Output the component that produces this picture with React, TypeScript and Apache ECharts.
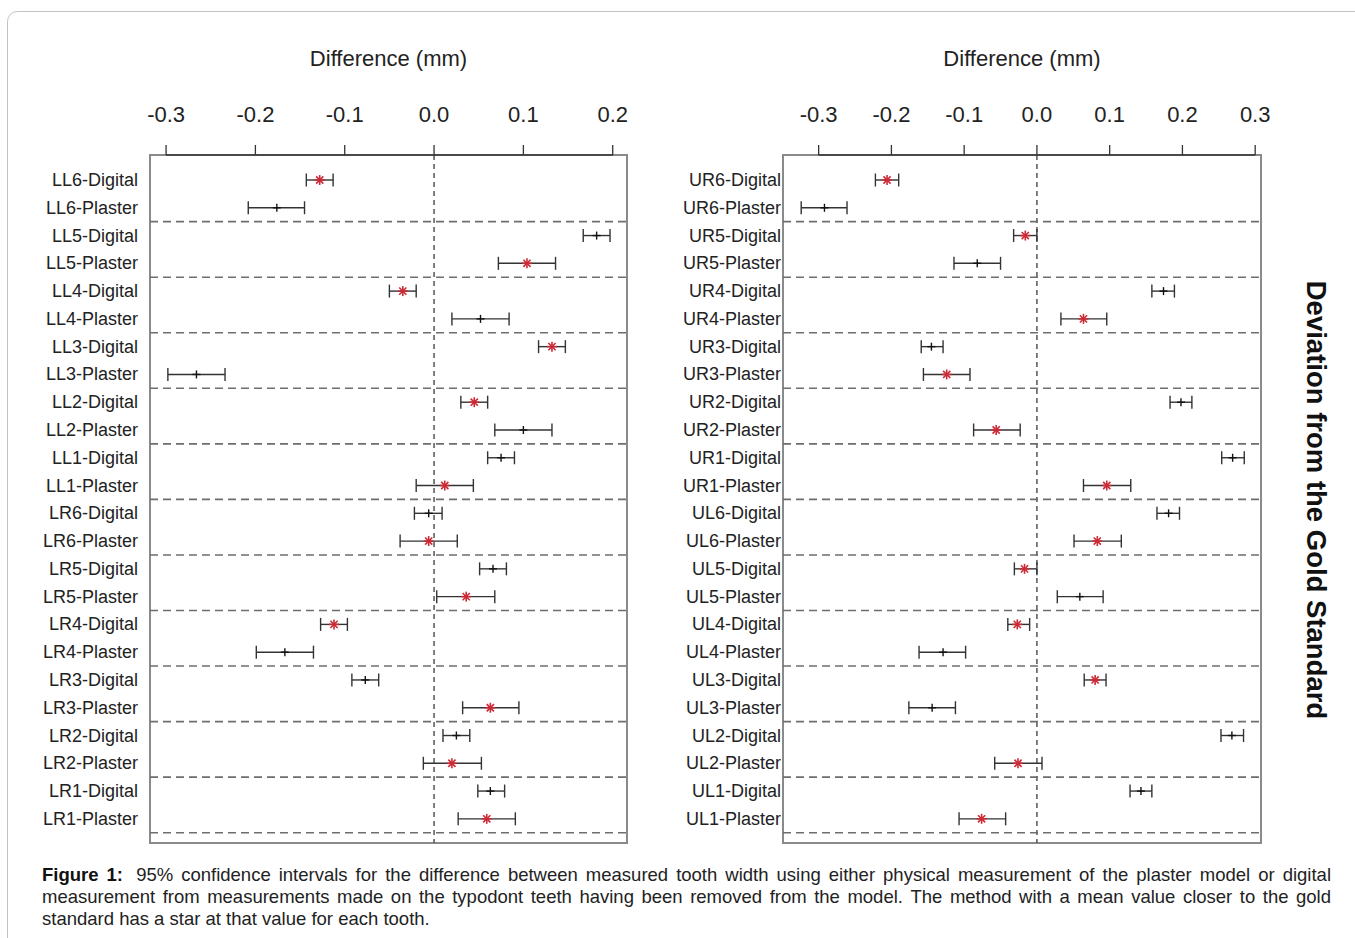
import React, { useEffect, useRef } from "react";
import * as echarts from "echarts";

// ---------- data ----------
const leftLabels = [
  "LL6-Digital", "LL6-Plaster", "LL5-Digital", "LL5-Plaster", "LL4-Digital", "LL4-Plaster",
  "LL3-Digital", "LL3-Plaster", "LL2-Digital", "LL2-Plaster", "LL1-Digital", "LL1-Plaster",
  "LR6-Digital", "LR6-Plaster", "LR5-Digital", "LR5-Plaster", "LR4-Digital", "LR4-Plaster",
  "LR3-Digital", "LR3-Plaster", "LR2-Digital", "LR2-Plaster", "LR1-Digital", "LR1-Plaster",
];
const leftLow = [
  -0.143, -0.208, 0.167, 0.072, -0.05, 0.02,
  0.117, -0.298, 0.03, 0.068, 0.06, -0.02,
  -0.022, -0.038, 0.051, 0.003, -0.127, -0.199,
  -0.092, 0.032, 0.01, -0.012, 0.049, 0.027,
];
const leftHigh = [
  -0.113, -0.145, 0.197, 0.136, -0.02, 0.084,
  0.147, -0.234, 0.06, 0.132, 0.09, 0.044,
  0.009, 0.026, 0.081, 0.068, -0.097, -0.135,
  -0.062, 0.095, 0.04, 0.053, 0.079, 0.091,
];
const leftMean = [
  -0.128, -0.176, 0.182, 0.104, -0.035, 0.052,
  0.132, -0.266, 0.045, 0.1, 0.075, 0.012,
  -0.006, -0.006, 0.066, 0.036, -0.112, -0.167,
  -0.077, 0.063, 0.025, 0.02, 0.063, 0.059,
];
const leftStar = [
  1, 0, 0, 1, 1, 0,
  1, 0, 1, 0, 0, 1,
  0, 1, 0, 1, 1, 0,
  0, 1, 0, 1, 0, 1,
];

const rightLabels = [
  "UR6-Digital", "UR6-Plaster", "UR5-Digital", "UR5-Plaster", "UR4-Digital", "UR4-Plaster",
  "UR3-Digital", "UR3-Plaster", "UR2-Digital", "UR2-Plaster", "UR1-Digital", "UR1-Plaster",
  "UL6-Digital", "UL6-Plaster", "UL5-Digital", "UL5-Plaster", "UL4-Digital", "UL4-Plaster",
  "UL3-Digital", "UL3-Plaster", "UL2-Digital", "UL2-Plaster", "UL1-Digital", "UL1-Plaster",
];
const rightLow = [
  -0.222, -0.324, -0.032, -0.114, 0.158, 0.033,
  -0.159, -0.156, 0.183, -0.087, 0.254, 0.064,
  0.165, 0.051, -0.031, 0.028, -0.04, -0.162,
  0.065, -0.176, 0.253, -0.058, 0.128, -0.107,
];
const rightHigh = [
  -0.19, -0.261, 0.0, -0.05, 0.189, 0.096,
  -0.129, -0.092, 0.213, -0.023, 0.285, 0.129,
  0.196, 0.116, 0.0, 0.091, -0.01, -0.098,
  0.095, -0.112, 0.284, 0.007, 0.158, -0.043,
];
const rightMean = [
  -0.206, -0.292, -0.016, -0.082, 0.174, 0.064,
  -0.145, -0.124, 0.198, -0.056, 0.269, 0.096,
  0.181, 0.083, -0.017, 0.059, -0.027, -0.129,
  0.08, -0.144, 0.268, -0.026, 0.143, -0.076,
];
const rightStar = [
  1, 0, 1, 0, 0, 1,
  0, 1, 0, 1, 0, 1,
  0, 1, 1, 0, 1, 0,
  1, 0, 0, 1, 0, 1,
];

const leftTicks = [-0.3, -0.2, -0.1, 0.0, 0.1, 0.2];
const rightTicks = [-0.3, -0.2, -0.1, 0.0, 0.1, 0.2, 0.3];
const axisTitle = "Difference (mm)";
const sideTitle = "Deviation from the Gold Standard";
const captionBold = ["Figure", "1:"];
const captionLine1 =
  "95% confidence intervals for the difference between measured tooth width using either physical measurement of the plaster model or digital";
const captionLine2 =
  "measurement from measurements made on the typodont teeth having been removed from the model. The method with a mean value closer to the gold";
const captionLine3 = "standard has a star at that value for each tooth.";

// ---------- helpers ----------
const FONT = "Liberation Sans";

function makeRenderItem(ticks: number[]) {
  return (params: any, api: any) => {
    const lo = api.value(0);
    const hi = api.value(1);
    const mean = api.value(2);
    const row = api.value(3);
    const isStar = api.value(4);
    const cs = params.coordSys;
    const children: any[] = [];
    if (params.dataIndex === 0) {
      const z = api.coord([0, row]);
      children.push({
        type: "line",
        shape: { x1: z[0], y1: cs.y, x2: z[0], y2: cs.y + cs.height },
        style: { stroke: "#555", lineWidth: 1.5, lineDash: [5, 4] },
      });
      // top axis line and outward ticks
      const tA = api.coord([ticks[0], row]);
      const tB = api.coord([ticks[ticks.length - 1], row]);
      const axisSt = { stroke: "#333", lineWidth: 1.3 };
      children.push({ type: "line", shape: { x1: tA[0], y1: cs.y, x2: tB[0], y2: cs.y }, style: axisSt });
      ticks.forEach((t) => {
        const p = api.coord([t, row]);
        children.push({ type: "line", shape: { x1: p[0], y1: cs.y - 10, x2: p[0], y2: cs.y }, style: axisSt });
      });
    }
    if (row % 2 === 1) {
      const s = api.coord([0, row + 0.5]);
      children.push({
        type: "line",
        shape: { x1: cs.x, y1: s[1], x2: cs.x + cs.width, y2: s[1] },
        style: { stroke: "#6e6e6e", lineWidth: 1.6, lineDash: [8, 5] },
      });
    }
    const p1 = api.coord([lo, row]);
    const p2 = api.coord([hi, row]);
    const pm = api.coord([mean, row]);
    const bar = { stroke: "#333", lineWidth: 1.4 };
    const cap = 6.5;
    children.push({ type: "line", shape: { x1: p1[0], y1: p1[1], x2: p2[0], y2: p2[1] }, style: bar });
    children.push({ type: "line", shape: { x1: p1[0], y1: p1[1] - cap, x2: p1[0], y2: p1[1] + cap }, style: bar });
    children.push({ type: "line", shape: { x1: p2[0], y1: p2[1] - cap, x2: p2[0], y2: p2[1] + cap }, style: bar });
    if (isStar) {
      const r = 5;
      const d = 3.6;
      const st = { stroke: "#cc2a36", lineWidth: 1.6 };
      children.push({ type: "line", shape: { x1: pm[0] - r, y1: pm[1], x2: pm[0] + r, y2: pm[1] }, style: st });
      children.push({ type: "line", shape: { x1: pm[0], y1: pm[1] - r, x2: pm[0], y2: pm[1] + r }, style: st });
      children.push({ type: "line", shape: { x1: pm[0] - d, y1: pm[1] - d, x2: pm[0] + d, y2: pm[1] + d }, style: st });
      children.push({ type: "line", shape: { x1: pm[0] - d, y1: pm[1] + d, x2: pm[0] + d, y2: pm[1] - d }, style: st });
    } else {
      const r = 4;
      const st = { stroke: "#111", lineWidth: 1.4 };
      children.push({ type: "line", shape: { x1: pm[0] - r, y1: pm[1], x2: pm[0] + r, y2: pm[1] }, style: st });
      children.push({ type: "line", shape: { x1: pm[0], y1: pm[1] - r, x2: pm[0], y2: pm[1] + r }, style: st });
    }
    return { type: "group", children };
  };
}

function buildRows(lo: number[], hi: number[], mean: number[], star: number[]) {
  return lo.map((v, i) => [v, hi[i], mean[i], i, star[i]]);
}

function captionElements() {
  const canvas = document.createElement("canvas");
  const ctx = canvas.getContext("2d") as CanvasRenderingContext2D;
  const size = 18.5;
  const left = 42;
  const right = 1331;
  const measure = (t: string, b: boolean) => {
    ctx.font = `${b ? "bold " : ""}${size}px "${FONT}"`;
    return ctx.measureText(t).width;
  };
  const spaceW = measure(" ", false);
  const lines = [
    {
      y: 874,
      justify: true,
      words: [
        ...captionBold.map((t) => ({ t, b: true })),
        ...captionLine1.split(" ").map((t) => ({ t, b: false })),
      ],
      extraAfter: 1,
    },
    { y: 896, justify: true, words: captionLine2.split(" ").map((t) => ({ t, b: false })), extraAfter: -1 },
    { y: 918, justify: false, words: captionLine3.split(" ").map((t) => ({ t, b: false })), extraAfter: -1 },
  ];
  const els: any[] = [];
  lines.forEach((ln) => {
    const widths = ln.words.map((w) => measure(w.t, w.b));
    const sum = widths.reduce((a, b) => a + b, 0);
    const n = ln.words.length;
    const extra = ln.extraAfter >= 0 ? spaceW : 0;
    const gap = ln.justify ? (right - left - sum - extra) / (n - 1) : spaceW;
    let x = left;
    ln.words.forEach((w, i) => {
      els.push({
        type: "text",
        x,
        y: ln.y,
        silent: true,
        style: {
          text: w.t,
          fontSize: size,
          fontFamily: FONT,
          fontWeight: w.b ? "bold" : "normal",
          fill: w.b ? "#111" : "#222",
          align: "left",
          verticalAlign: "middle",
          textAlign: "left",
          textVerticalAlign: "middle",
        },
      });
      x += widths[i] + gap + (i === ln.extraAfter ? extra : 0);
    });
  });
  return els;
}

// ---------- component ----------
export default function App() {
  const ref = useRef<HTMLDivElement>(null);

  useEffect(() => {
    if (!ref.current) return;
    const chart = echarts.init(ref.current, undefined, { renderer: "svg" });

    const gridTop = 155;
    const gridH = 688;
    const grids = [
      { left: 150, top: gridTop, width: 477, height: gridH },
      { left: 783, top: gridTop, width: 478, height: gridH },
    ];
    const rowIdx = leftLabels.map((_, i) => i);

    const xAxisFor = (gi: number, min: number, max: number, ticks: number[]) => ({
      gridIndex: gi,
      type: "value",
      position: "top",
      min,
      max,
      splitLine: { show: false },
      axisLine: { show: false },
      axisTick: { show: false },
      axisLabel: {
        customValues: ticks,
        formatter: (v: number) => v.toFixed(1),
        fontSize: 22,
        fontFamily: FONT,
        color: "#222",
        margin: 30,
      },
    });
    const yAxisFor = (gi: number, labels: string[], margin: number) => ({
      gridIndex: gi,
      type: "value",
      inverse: true,
      min: -0.9,
      max: 23.87,
      splitLine: { show: false },
      axisLine: { show: false },
      axisTick: { show: false },
      axisLabel: {
        customValues: rowIdx,
        formatter: (v: number) => labels[Math.round(v)] ?? "",
        fontSize: 18,
        fontFamily: FONT,
        color: "#222",
        margin,
      },
    });

    const option: any = {
      animation: false,
      backgroundColor: "#fff",
      textStyle: { fontFamily: FONT },
      grid: grids.map((g) => ({ ...g, show: true, borderColor: "#8a8a8a", borderWidth: 2, backgroundColor: "transparent" })),
      xAxis: [xAxisFor(0, -0.318, 0.216, leftTicks), xAxisFor(1, -0.349, 0.308, rightTicks)],
      yAxis: [yAxisFor(0, leftLabels, 12), yAxisFor(1, rightLabels, 2)],
      series: [
        {
          type: "custom",
          xAxisIndex: 0,
          yAxisIndex: 0,
          renderItem: makeRenderItem(leftTicks),
          encode: { x: [0, 1, 2], y: 3 },
          data: buildRows(leftLow, leftHigh, leftMean, leftStar),
          clip: false,
          silent: true,
        },
        {
          type: "custom",
          xAxisIndex: 1,
          yAxisIndex: 1,
          renderItem: makeRenderItem(rightTicks),
          encode: { x: [0, 1, 2], y: 3 },
          data: buildRows(rightLow, rightHigh, rightMean, rightStar),
          clip: false,
          silent: true,
        },
      ],
      graphic: [
        {
          type: "rect",
          silent: true,
          z: -10,
          shape: { x: 7.5, y: 11.5, width: 1420, height: 1000, r: 10 },
          style: { fill: "none", stroke: "#c2c2c2", lineWidth: 1 },
        },
        {
          type: "text",
          x: 388.5,
          y: 58,
          silent: true,
          style: {
            text: axisTitle, fontSize: 22, fontFamily: FONT, fill: "#222",
            align: "center", verticalAlign: "middle", textAlign: "center", textVerticalAlign: "middle",
          },
        },
        {
          type: "text",
          x: 1022,
          y: 58,
          silent: true,
          style: {
            text: axisTitle, fontSize: 22, fontFamily: FONT, fill: "#222",
            align: "center", verticalAlign: "middle", textAlign: "center", textVerticalAlign: "middle",
          },
        },
        {
          type: "text",
          x: 1316,
          y: 500,
          rotation: -Math.PI / 2,
          silent: true,
          style: {
            text: sideTitle, fontSize: 27.5, fontWeight: "bold", fontFamily: FONT, fill: "#111",
            align: "center", verticalAlign: "middle", textAlign: "center", textVerticalAlign: "middle",
          },
        },
        ...captionElements(),
      ],
    };

    chart.setOption(option);
    return () => chart.dispose();
  }, []);

  return (
    <div
      ref={ref}
      style={{ position: "absolute", left: 0, top: 0, width: 1355, height: 938, background: "#fff" }}
    />
  );
}
